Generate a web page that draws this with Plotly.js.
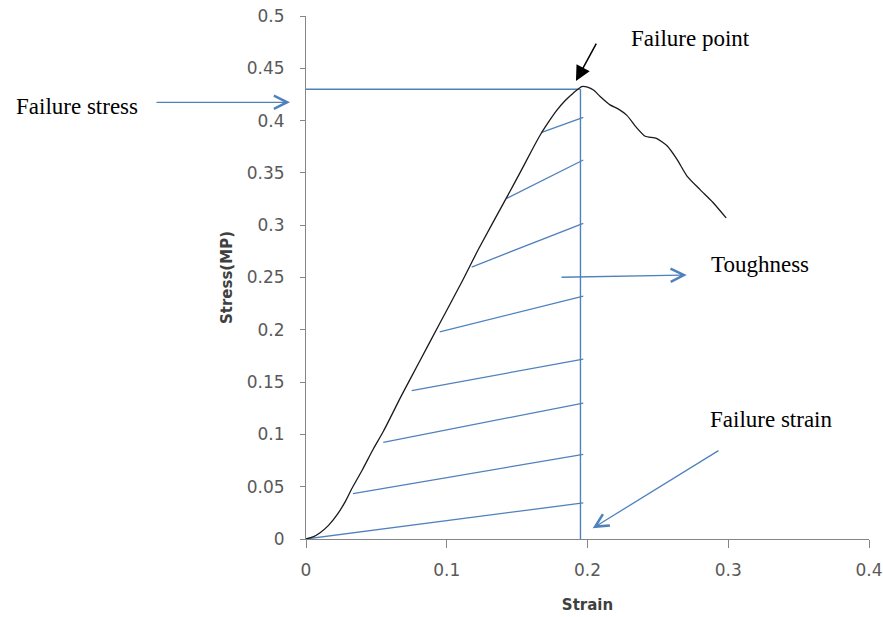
<!DOCTYPE html>
<html>
<head>
<meta charset="utf-8">
<script src="https://cdn.plot.ly/plotly-3.0.1.min.js"></script>
<style>html,body{margin:0;padding:0;background:#fff;}#chart{width:883px;height:617px;}</style>
</head>
<body>
<div id="chart"></div>
<script>
// Stress-strain curve
const strain = [0, 0.005, 0.01, 0.016, 0.022, 0.028, 0.0325, 0.04, 0.0478, 0.055, 0.068, 0.08, 0.095, 0.1118, 0.1225, 0.1426, 0.152, 0.16, 0.1663, 0.172, 0.178, 0.184, 0.19, 0.1959, 0.2, 0.2045, 0.209, 0.216, 0.222, 0.228, 0.235, 0.241, 0.249, 0.2565, 0.2636, 0.2707, 0.28, 0.289, 0.2985];
const stress = [0, 0.002, 0.006, 0.013, 0.023, 0.036, 0.048, 0.066, 0.086, 0.103, 0.1375, 0.168, 0.206, 0.2486, 0.277, 0.3266, 0.350, 0.3705, 0.386, 0.398, 0.4095, 0.419, 0.4265, 0.4325, 0.432, 0.429, 0.423, 0.415, 0.411, 0.405, 0.393, 0.385, 0.383, 0.376, 0.363, 0.347, 0.334, 0.322, 0.307];

// Failure values
const failureStrain = 0.195;
const failureStress = 0.43;

// Hatch lines (toughness area)
const hatchStartX = [0, 0.0334, 0.0549, 0.0751, 0.095, 0.1177, 0.1426, 0.1675];
const hatchStartY = [0, 0.0433, 0.0924, 0.1418, 0.198, 0.260, 0.3257, 0.3888];
const hatchEndX = [0.197, 0.197, 0.197, 0.197, 0.197, 0.197, 0.197, 0.197];
const hatchEndY = [0.0345, 0.081, 0.130, 0.172, 0.2323, 0.3018, 0.3623, 0.4031];

// Tick labels
const xTicks = [0, 0.1, 0.2, 0.3, 0.4];
const xTickText = ['0', '0.1', '0.2', '0.3', '0.4'];
const yTicks = [0, 0.05, 0.1, 0.15, 0.2, 0.25, 0.3, 0.35, 0.4, 0.45, 0.5];
const yTickText = ['0', '0.05', '0.1', '0.15', '0.2', '0.25', '0.3', '0.35', '0.4', '0.45', '0.5'];

const blue = '#4F81BD';

const hx = [], hy = [];
for (let i = 0; i < hatchStartX.length; i++) {
  hx.push(hatchStartX[i], hatchEndX[i], null);
  hy.push(hatchStartY[i], hatchEndY[i], null);
}

const traces = [
  {x: [0, failureStrain, null, failureStrain, failureStrain], y: [failureStress, failureStress, null, 0, failureStress],
   mode: 'lines', line: {color: blue, width: 1.4}, hoverinfo: 'skip', cliponaxis: false},
  {x: hx, y: hy, mode: 'lines', line: {color: blue, width: 1.3}, hoverinfo: 'skip', cliponaxis: false},
  {x: strain, y: stress, mode: 'lines', line: {color: '#1a1a1a', width: 1.3, shape: 'spline', smoothing: 0.6}, cliponaxis: false}
];

const serif = {family: 'Liberation Serif, Times New Roman, serif', size: 23, color: '#000'};

function arrow(tailX, tailY, headX, headY, color, head, size, width) {
  return {x: headX, y: headY, ax: tailX, ay: tailY, xref: 'x', yref: 'y', axref: 'x', ayref: 'y',
    text: '', showarrow: true, arrowhead: head, arrowsize: size, arrowwidth: width, arrowcolor: color, standoff: 0};
}

const annotations = [
  {x: -0.4067, y: 0.4135, xref: 'paper', yref: 'y', text: 'Failure stress', showarrow: false, font: serif, xanchor: 'center', yanchor: 'middle'},
  {x: 0.2735, y: 0.4782, xref: 'x', yref: 'y', text: 'Failure point', showarrow: false, font: serif, xanchor: 'center', yanchor: 'middle'},
  {x: 0.3225, y: 0.2625, xref: 'x', yref: 'y', text: 'Toughness', showarrow: false, font: serif, xanchor: 'center', yanchor: 'middle'},
  {x: 0.3304, y: 0.1147, xref: 'x', yref: 'y', text: 'Failure strain', showarrow: false, font: serif, xanchor: 'center', yanchor: 'middle'},
  {x: -0.0284, y: 0.4175, xref: 'paper', yref: 'y', ax: -135, ay: 0, axref: 'pixel', ayref: 'pixel',
    text: '', showarrow: true, arrowhead: 5, arrowsize: 2, arrowwidth: 1.3, arrowcolor: blue, standoff: 0},
  arrow(0.2068, 0.4751, 0.1918, 0.4379, '#000', 2, 2, 1.5),
  arrow(0.1805, 0.2502, 0.2705, 0.2524, blue, 5, 2, 1.3),
  arrow(0.2941, 0.0854, 0.2037, 0.0103, blue, 5, 2, 1.3)
];

const tickFont = {family: 'DejaVu Sans, Verdana, sans-serif', size: 17, color: '#595959'};
const titleFont = {family: 'DejaVu Sans, Verdana, sans-serif', size: 15, color: '#404040', weight: 'bold'};

const layout = {
  width: 883, height: 617,
  margin: {l: 306, r: 14, t: 16, b: 78, pad: 0},
  paper_bgcolor: '#fff', plot_bgcolor: '#fff',
  showlegend: false,
  xaxis: {range: [0, 0.4], tickvals: xTicks, ticktext: xTickText, showgrid: false, zeroline: false,
    showline: true, linecolor: '#868686', linewidth: 1, ticks: 'outside', ticklen: 8, tickcolor: '#868686',
    tickfont: tickFont, ticklabelstandoff: 8,
    title: {text: '<b>Strain</b>', font: titleFont, standoff: 20}},
  yaxis: {range: [0, 0.5], tickvals: yTicks, ticktext: yTickText, showgrid: false, zeroline: false,
    showline: true, linecolor: '#868686', linewidth: 1, ticks: 'outside', ticklen: 5, tickcolor: '#868686',
    tickfont: tickFont, ticklabelstandoff: 12,
    title: {text: '<b>Stress(MP)</b>', font: titleFont, standoff: 10}},
  annotations: annotations
};

Plotly.newPlot('chart', traces, layout, {displayModeBar: false, staticPlot: true});
</script>
</body>
</html>
